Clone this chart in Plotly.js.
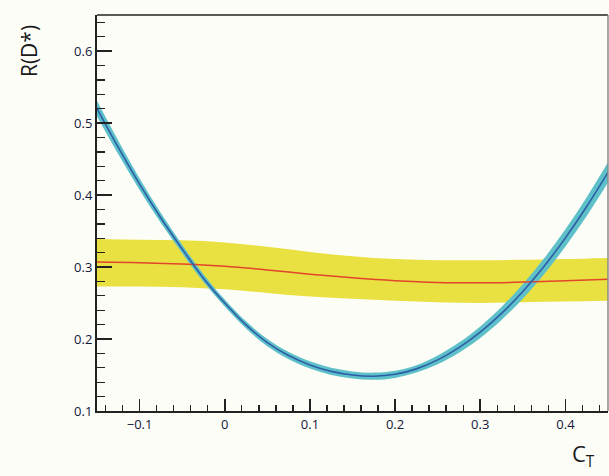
<!DOCTYPE html>
<html>
<head>
<meta charset="utf-8">
<script src="https://cdn.plot.ly/plotly-3.0.1.min.js"></script>
<style>
  html, body { margin: 0; padding: 0; background: #fdfdf7; }
  #chart { width: 609px; height: 476px; }
</style>
</head>
<body>
<div id="chart"></div>
<script>
// R(D*) prediction as a function of the tensor coupling C_T,
// compared with the measured value (central value and 1σ band).

// Theory curve: C_T grid, central value and band edges
const ctGrid = [-0.150, -0.125, -0.100, -0.075, -0.050, -0.025, 0.000, 0.025, 0.050,
                0.075, 0.100, 0.125, 0.150, 0.175, 0.200, 0.225, 0.250, 0.275,
                0.300, 0.325, 0.350, 0.375, 0.400, 0.425, 0.450];
const theoryCentral = [0.520, 0.466, 0.415, 0.368, 0.325, 0.2845, 0.250, 0.2195, 0.195,
                       0.177, 0.164, 0.155, 0.150, 0.1483, 0.151, 0.1585, 0.171, 0.188,
                       0.2095, 0.2355, 0.266, 0.301, 0.3405, 0.384, 0.4315];
const theoryUpper = [0.531, 0.4755, 0.423, 0.375, 0.331, 0.290, 0.255, 0.2245, 0.200,
                     0.182, 0.169, 0.160, 0.155, 0.1533, 0.156, 0.1635, 0.177, 0.195,
                     0.2175, 0.2445, 0.276, 0.312, 0.3525, 0.397, 0.4455];
const theoryLower = [0.509, 0.4565, 0.407, 0.361, 0.319, 0.279, 0.245, 0.2145, 0.190,
                     0.172, 0.159, 0.150, 0.145, 0.1433, 0.146, 0.1535, 0.165, 0.181,
                     0.2015, 0.2265, 0.256, 0.290, 0.3285, 0.371, 0.4175];

// Measured R(D*): C_T grid, central value and band edges
const measGrid = [-0.15, -0.10, -0.05, 0.00, 0.05, 0.10, 0.15, 0.20, 0.25, 0.30, 0.35, 0.40, 0.45];
const measCentral = [0.307, 0.306, 0.304, 0.301, 0.296, 0.290, 0.285, 0.281, 0.2785, 0.278, 0.279, 0.281, 0.283];
const measUpper = [0.339, 0.338, 0.337, 0.334, 0.328, 0.321, 0.315, 0.311, 0.3095, 0.3095, 0.310, 0.311, 0.3125];
const measLower = [0.273, 0.273, 0.272, 0.269, 0.264, 0.259, 0.256, 0.253, 0.251, 0.250, 0.251, 0.252, 0.253];

const yellow = '#e9e142';
const cyan = '#5ec0c8';
const blue = '#2d5da6';
const red = '#e2452a';

const traces = [
  // measured band
  { x: measGrid, y: measLower, mode: 'lines', line: { width: 0, shape: 'spline' },
    hoverinfo: 'skip', showlegend: false },
  { x: measGrid, y: measUpper, mode: 'lines', fill: 'tonexty', fillcolor: yellow,
    line: { width: 0, shape: 'spline' }, hoverinfo: 'skip', showlegend: false },
  // theory band
  { x: ctGrid, y: theoryLower, mode: 'lines', line: { width: 0, shape: 'spline' },
    hoverinfo: 'skip', showlegend: false },
  { x: ctGrid, y: theoryUpper, mode: 'lines', fill: 'tonexty', fillcolor: cyan,
    line: { width: 0, shape: 'spline' }, hoverinfo: 'skip', showlegend: false },
  // central values
  { x: measGrid, y: measCentral, mode: 'lines',
    line: { color: red, width: 1.5, shape: 'spline' }, showlegend: false },
  { x: ctGrid, y: theoryCentral, mode: 'lines',
    line: { color: blue, width: 1.6, shape: 'spline' }, showlegend: false }
];

const tickFont = { family: '"Open Sans", "DejaVu Sans", sans-serif', size: 13, color: '#14163a' };

const layout = {
  width: 609,
  height: 476,
  margin: { l: 97, r: 1, t: 15, b: 65 },
  paper_bgcolor: '#fdfdf7',
  plot_bgcolor: '#fdfdf7',
  showlegend: false,
  xaxis: {
    range: [-0.15, 0.45],
    tick0: 0, dtick: 0.1,
    ticks: 'inside', ticklen: 12, tickwidth: 1.6, tickcolor: '#222',
    minor: { dtick: 0.02, ticks: 'inside', ticklen: 6, tickwidth: 1.4, tickcolor: '#222' },
    showline: true, linecolor: '#222', linewidth: 2,
    showgrid: false, zeroline: false,
    tickfont: tickFont, ticklabelstandoff: 0
  },
  yaxis: {
    range: [0.1, 0.65],
    tick0: 0, dtick: 0.1,
    ticks: 'inside', ticklen: 15, tickwidth: 1.6, tickcolor: '#222',
    minor: { dtick: 0.02, ticks: 'inside', ticklen: 8, tickwidth: 1.4, tickcolor: '#222' },
    showline: true, linecolor: '#222', linewidth: 2,
    showgrid: false, zeroline: false,
    tickfont: tickFont, ticklabelstandoff: 0
  },
  shapes: [
    { type: 'line', xref: 'paper', yref: 'paper', x0: 0, x1: 1, y0: 1, y1: 1,
      line: { color: '#222', width: 1.5 } },
    { type: 'line', xref: 'paper', yref: 'paper', x0: 1, x1: 1, y0: 0, y1: 1,
      line: { color: '#888', width: 1.5 } }
  ],
  annotations: [
    { text: 'R(D*)', xref: 'paper', yref: 'paper', x: -0.133, y: 0.909,
      xanchor: 'center', yanchor: 'middle', textangle: -90, showarrow: false,
      font: { family: '"Open Sans", "DejaVu Sans", sans-serif', size: 21, color: '#1a1a1a' } },
    { text: 'C<sub>T</sub>', xref: 'paper', yref: 'paper', x: 0.953, y: -0.112,
      xanchor: 'center', yanchor: 'middle', showarrow: false,
      font: { family: '"Open Sans", "DejaVu Sans", sans-serif', size: 22, color: '#1a1a1a' } }
  ]
};

Plotly.newPlot('chart', traces, layout, { displayModeBar: false, staticPlot: true });
</script>
</body>
</html>
